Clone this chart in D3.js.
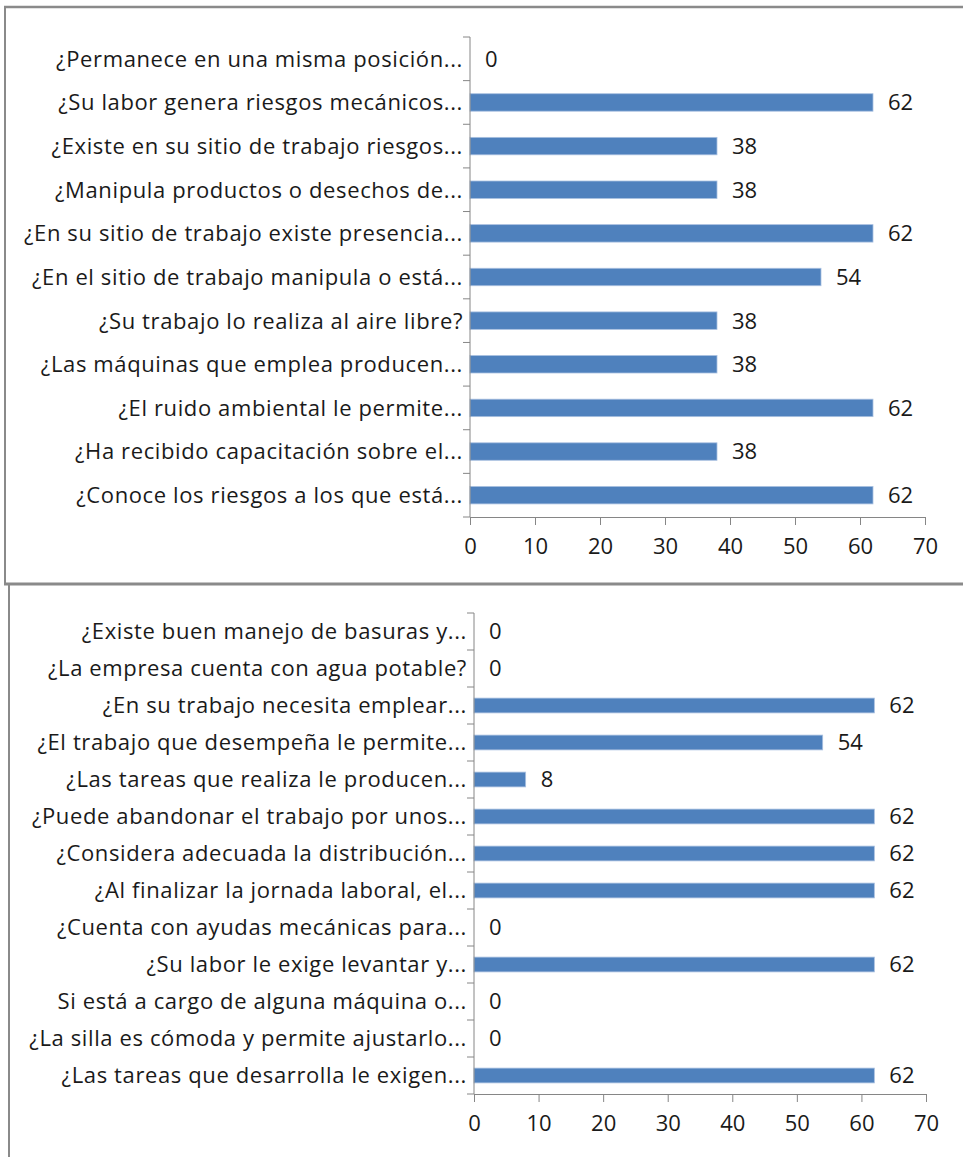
<!DOCTYPE html>
<html>
<head>
<meta charset="utf-8">
<script src="https://cdn.jsdelivr.net/npm/d3@7"></script>
<style>
  body { margin: 0; background: #fff; }
  svg text { font-family: "Open Sans", Lato, sans-serif; fill: #1a1a1a; }
</style>
</head>
<body>
<svg id="chart" width="963" height="1157"></svg>
<script>
// Chart 1 (top) questions, top to bottom
const topQuestions = [
  "¿Permanece en una misma posición...",
  "¿Su labor genera riesgos mecánicos...",
  "¿Existe en su sitio de trabajo riesgos...",
  "¿Manipula productos o desechos de...",
  "¿En su sitio de trabajo existe presencia...",
  "¿En el sitio de trabajo manipula o está...",
  "¿Su trabajo lo realiza al aire libre?",
  "¿Las máquinas que emplea producen...",
  "¿El ruido ambiental le permite...",
  "¿Ha recibido capacitación sobre el...",
  "¿Conoce los riesgos a los que está..."
];
const topValues = [0, 62, 38, 38, 62, 54, 38, 38, 62, 38, 62];

// Chart 2 (bottom) questions, top to bottom
const bottomQuestions = [
  "¿Existe buen manejo de basuras y...",
  "¿La empresa cuenta con agua potable?",
  "¿En su trabajo necesita emplear...",
  "¿El trabajo que desempeña le permite...",
  "¿Las tareas que realiza le producen...",
  "¿Puede abandonar el trabajo por unos...",
  "¿Considera adecuada la distribución...",
  "¿Al finalizar la jornada laboral, el...",
  "¿Cuenta con ayudas mecánicas para...",
  "¿Su labor le exige levantar y...",
  "Si está a cargo de alguna máquina o...",
  "¿La silla es cómoda y permite ajustarlo...",
  "¿Las tareas que desarrolla le exigen..."
];
const bottomValues = [0, 0, 62, 54, 8, 62, 62, 62, 0, 62, 0, 0, 62];

const xTicks = [0, 10, 20, 30, 40, 50, 60, 70];

const svg = d3.select("#chart");
const axisColor = "#868686";
const barColor = "#4f81bd";

// frame lines
svg.append("line").attr("x1", 4).attr("x2", 963).attr("y1", 7).attr("y2", 7)
  .attr("stroke", "#8a8a8a").attr("stroke-width", 2.5);
svg.append("line").attr("x1", 5).attr("x2", 5).attr("y1", 6).attr("y2", 584)
  .attr("stroke", "#8a8a8a").attr("stroke-width", 2);
svg.append("line").attr("x1", 4).attr("x2", 963).attr("y1", 584).attr("y2", 584)
  .attr("stroke", "#8a8a8a").attr("stroke-width", 3);
svg.append("line").attr("x1", 9).attr("x2", 9).attr("y1", 584).attr("y2", 1157)
  .attr("stroke", "#8a8a8a").attr("stroke-width", 2);

function drawChart(questions, values, box) {
  const g = svg.append("g");

  const x = d3.scaleLinear()
    .domain([0, 70])
    .range([box.left, box.right]);

  const y = d3.scaleBand()
    .domain(questions)
    .range([box.top, box.bottom])
    .paddingInner(0.6)
    .paddingOuter(0.3);

  const step = y.step();

  // bars
  g.selectAll(".bar")
    .data(values)
    .enter().append("rect")
    .attr("class", "bar")
    .attr("x", x(0))
    .attr("y", (d, i) => y(questions[i]))
    .attr("width", d => x(d) - x(0))
    .attr("height", y.bandwidth())
    .attr("fill", barColor)
    .attr("stroke", d => d > 0 ? "#a9c0e0" : "none")
    .attr("stroke-width", 0.8);

  // value labels
  g.selectAll(".val")
    .data(values)
    .enter().append("text")
    .attr("class", "val")
    .attr("x", d => x(d) + 15)
    .attr("y", (d, i) => y(questions[i]) + y.bandwidth() / 2)
    .attr("dy", "0.36em")
    .attr("font-size", 22)
    .text(d => d);

  // category axis
  g.append("line")
    .attr("x1", x(0)).attr("x2", x(0))
    .attr("y1", box.top).attr("y2", box.bottom)
    .attr("stroke", axisColor);
  g.selectAll(".ytick")
    .data(d3.range(questions.length + 1))
    .enter().append("line")
    .attr("x1", x(0) - 7).attr("x2", x(0))
    .attr("y1", i => box.top + i * step)
    .attr("y2", i => box.top + i * step)
    .attr("stroke", axisColor);

  g.selectAll(".cat")
    .data(questions)
    .enter().append("text")
    .attr("class", "cat")
    .attr("x", x(0) - 7)
    .attr("y", d => y(d) + y.bandwidth() / 2)
    .attr("dy", "0.36em")
    .attr("text-anchor", "end")
    .attr("font-size", 22)
    .attr("letter-spacing", 0.62)
    .text(d => d);

  // value axis
  const xAxis = g.append("g")
    .attr("transform", "translate(0," + box.bottom + ")")
    .call(d3.axisBottom(x).tickValues(xTicks).tickSize(8).tickPadding(13).tickSizeOuter(0));
  xAxis.select(".domain").attr("stroke", axisColor);
  xAxis.selectAll(".tick line").attr("stroke", axisColor);
  xAxis.selectAll(".tick text")
    .attr("font-size", 22)
    .attr("font-family", "'Open Sans', Lato, sans-serif")
    .attr("fill", "#1a1a1a");
}

drawChart(topQuestions, topValues, { left: 470, right: 925, top: 37, bottom: 517 });
drawChart(bottomQuestions, bottomValues, { left: 474, right: 926, top: 613, bottom: 1094 });
</script>
</body>
</html>
